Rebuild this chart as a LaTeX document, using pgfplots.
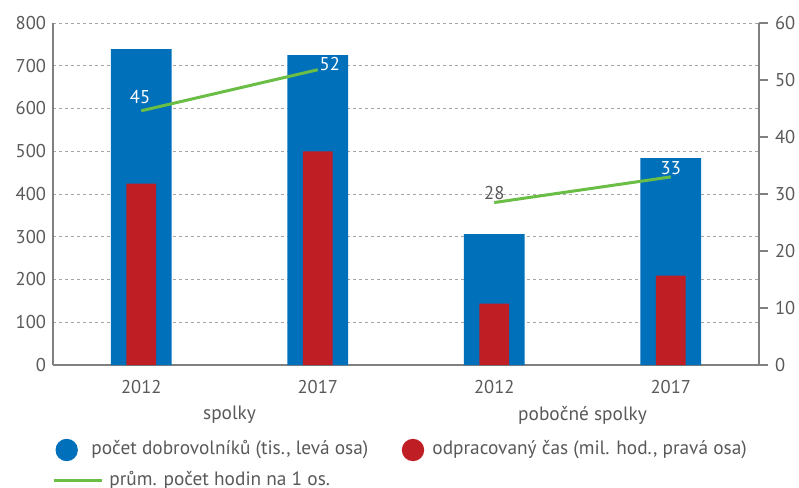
\documentclass[border=0pt]{standalone}
\usepackage{fontspec}
\setmainfont{PT Sans}
\usepackage{pgfplots}
\pgfplotsset{compat=1.18}

\definecolor{barblue}{HTML}{0070BA}
\definecolor{barred}{HTML}{BE1E24}
\definecolor{linegreen}{HTML}{6ABD45}
\definecolor{txtgray}{HTML}{595959}
\definecolor{axgray}{HTML}{808080}

\newcommand{\lbl}{\fontsize{9.3}{11}\selectfont}
\newcommand{\leg}{\fontsize{9.7}{11}\selectfont}

\begin{document}
\begin{tikzpicture}
% left axis: volunteers (thousands)
\begin{axis}[
  scale only axis,width=353bp,height=171bp,
  xmin=-0.5,xmax=3.5,ymin=0,ymax=800,
  axis y line*=left,axis x line*=bottom,
  axis line style={axgray,line width=0.6bp},
  x axis line style={line width=1bp},
  ytick={0,100,...,800},xtick={0,1,2,3},
  xticklabels={2012,2017,2012,2017},
  major tick length=0,
  ymajorgrids,grid style={axgray!70,line width=0.5bp,dash pattern=on 1.5bp off 1.5bp},
  /pgf/number format/assume math mode=true,
  tick label style={font=\lbl,text=txtgray},
  xticklabel style={yshift=-4bp},
  ybar,bar width=0.345,
  clip=false,
]
\addplot[fill=barblue,draw=none] coordinates {(0,739) (1,725) (2,306) (3,484)};
\node[font=\leg,text=txtgray] at (axis cs:0.5,0) [yshift=-25bp] {spolky};
\node[font=\leg,text=txtgray] at (axis cs:2.5,0) [yshift=-25bp] {pobočné spolky};
\end{axis}

% right axis: hours worked (millions) and average hours per person
\begin{axis}[
  scale only axis,width=353bp,height=171bp,
  xmin=-0.5,xmax=3.5,ymin=0,ymax=60,
  axis y line*=right,axis x line=none,
  axis line style={axgray,line width=0.6bp},
  ytick={0,10,...,60},
  tick align=outside,major tick length=4.5bp,
  tick style={axgray,line width=0.6bp},
  /pgf/number format/assume math mode=true,
  tick label style={font=\lbl,text=txtgray},
  clip=false,
]
\addplot[ybar,bar width=0.168,fill=barred,draw=none] coordinates {(0,31.8) (1,37.5) (2,10.75) (3,15.7)};
\addplot[linegreen,line width=1.5bp] coordinates {(0,44.6) (1,51.8)};
\addplot[linegreen,line width=1.5bp] coordinates {(2,28.5) (3,33)};
\node[font=\lbl,text=white] at (axis cs:0,44.6) [xshift=-0.6bp,yshift=6.8bp] {45};
\node[font=\lbl,text=white] at (axis cs:1,51.8) [xshift=6bp,yshift=3bp] {52};
\node[font=\lbl,text=txtgray] at (axis cs:2,28.5) [yshift=4.9bp] {28};
\node[font=\lbl,text=white] at (axis cs:3,33) [yshift=4.4bp] {33};
\end{axis}

% legend
\fill[barblue] (6.85bp,-42.5bp) circle (5.6bp);
\node[font=\leg,text=txtgray,anchor=west,inner sep=0pt] at (19bp,-42.5bp) {počet dobrovolníků (tis., levá osa)};
\fill[barred] (180bp,-42.5bp) circle (5.6bp);
\node[font=\leg,text=txtgray,anchor=west,inner sep=0pt] at (189.5bp,-42.5bp) {odpracovaný čas (mil. hod., pravá osa)};
\draw[linegreen,line width=1.5bp] (0.5bp,-57.5bp) -- (24.3bp,-57.5bp);
\node[font=\leg,text=txtgray,anchor=west,inner sep=0pt] at (28bp,-57.5bp) {prům. počet hodin na 1 os.};

\pgfresetboundingbox
\useasboundingbox (-26.5bp,-61.5bp) rectangle (373bp,182.5bp);
\end{tikzpicture}
\end{document}
